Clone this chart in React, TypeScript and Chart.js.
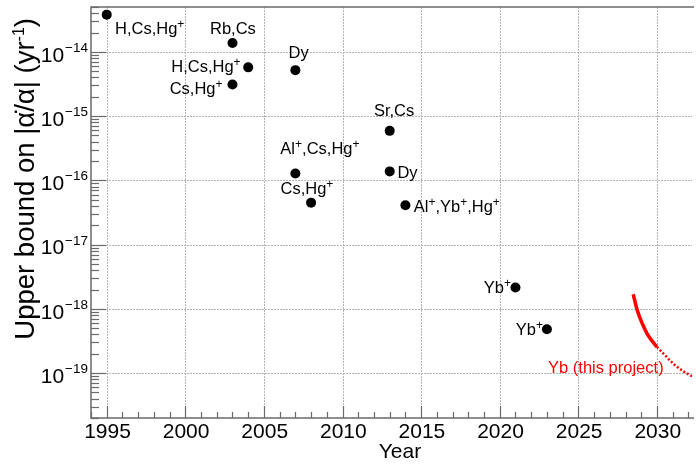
import React, { useEffect, useRef } from 'react';
import { Chart, registerables } from 'chart.js';

Chart.register(...registerables);

// ---- data ----
const pointYears = [1995, 2003, 2004, 2003, 2007, 2013, 2007, 2013, 2008, 2014, 2021, 2023];
const pointBounds = [3.8e-14, 1.38e-14, 5.75e-15, 3.1e-15, 5.2e-15, 5.9e-16, 1.28e-16, 1.38e-16, 4.5e-17, 4.1e-17, 2.15e-18, 4.8e-19];
const pointLabels = [
  'H,Cs,Hg^{+}', 'Rb,Cs', 'H,Cs,Hg^{+}', 'Cs,Hg^{+}', 'Dy', 'Sr,Cs',
  'Al^{+},Cs,Hg^{+}', 'Dy', 'Cs,Hg^{+}', 'Al^{+},Yb^{+},Hg^{+}', 'Yb^{+}', 'Yb^{+}',
];

const projectYearsSolid = [2028.49, 2028.76, 2029.08, 2029.39, 2029.81, 2030.0];
const projectBoundsSolid = [1.69e-18, 9.3e-19, 5.8e-19, 4.05e-19, 2.9e-19, 2.55e-19];
const projectYearsDotted = [2030.0, 2030.44, 2031.07, 2031.7, 2032.17, 2032.4];
const projectBoundsDotted = [2.55e-19, 1.98e-19, 1.38e-19, 1.06e-19, 9.1e-20, 8.6e-20];
const projectLabel = 'Yb (this project)';
const projectLabelYear = 2026.75;
const projectLabelBound = 1e-19;

const xTickYears = [1995, 2000, 2005, 2010, 2015, 2020, 2025, 2030];
const yTickExponents = [-19, -18, -17, -16, -15, -14];
const xTitle = 'Year';
const yTitle = 'Upper bound on |\u03B1\u0307/\u03B1| (yr^{-1})';

// ---- layout / style (not data) ----
const X_MIN = 1994;
const X_MAX = 2032.23;
const Y_MIN = 2e-20;
const Y_MAX = 5e-14;
const FONT = "'Liberation Sans', Arial, Helvetica, sans-serif";
// label placement relative to point pixel: [align, dx, dy(baseline)]
const labelPlacement: [CanvasTextAlign, number, number][] = [
  ['left', 8.3, 19.3],
  ['center', 0.4, -9],
  ['right', -7.6, 5],
  ['right', -10, 9.5],
  ['center', 3.3, -12.4],
  ['center', 4.4, -14.6],
  ['left', -15, -19],
  ['left', 7.7, 6.3],
  ['left', -30.6, -8.3],
  ['left', 8.3, 6.7],
  ['right', -4.5, 5.7],
  ['right', -4, 5.7],
];

type Seg = { t: string; sup: boolean };
function parseRich(s: string): Seg[] {
  const out: Seg[] = [];
  const re = /\^\{([^}]*)\}/g;
  let last = 0;
  let m: RegExpExecArray | null;
  while ((m = re.exec(s)) !== null) {
    if (m.index > last) out.push({ t: s.slice(last, m.index), sup: false });
    out.push({ t: m[1], sup: true });
    last = m.index + m[0].length;
  }
  if (last < s.length) out.push({ t: s.slice(last), sup: false });
  return out;
}

function drawRich(
  ctx: CanvasRenderingContext2D, text: string, x: number, y: number,
  align: CanvasTextAlign, size: number, supSize: number, supRaise: number, color: string,
) {
  const segs = parseRich(text);
  const mainF = `${size}px ${FONT}`;
  const supF = `${supSize}px ${FONT}`;
  let total = 0;
  const widths = segs.map((s) => {
    ctx.font = s.sup ? supF : mainF;
    const w = ctx.measureText(s.t).width;
    total += w;
    return w;
  });
  let cx = x;
  if (align === 'center') cx = x - total / 2;
  else if (align === 'right') cx = x - total;
  ctx.fillStyle = color;
  ctx.textAlign = 'left';
  ctx.textBaseline = 'alphabetic';
  segs.forEach((s, i) => {
    ctx.font = s.sup ? supF : mainF;
    ctx.fillText(s.t, cx, s.sup ? y - supRaise : y);
    cx += widths[i];
  });
}

const rootStyle = {
  id: 'rootStyle',
  beforeDatasetsDraw(chart: any) {
    const { ctx, chartArea: a, scales } = chart;
    const xs = scales.x;
    const ys = scales.y;
    ctx.save();
    // grid
    ctx.strokeStyle = '#b4b4b4';
    ctx.lineWidth = 1;
    ctx.setLineDash([2, 1]);
    xTickYears.forEach((yr) => {
      const px = Math.round(xs.getPixelForValue(yr)) + 0.5;
      ctx.beginPath();
      ctx.moveTo(px, a.top);
      ctx.lineTo(px, a.bottom);
      ctx.stroke();
    });
    yTickExponents.forEach((e) => {
      const py = Math.round(ys.getPixelForValue(Math.pow(10, e))) + 0.5;
      ctx.beginPath();
      ctx.moveTo(a.left, py);
      ctx.lineTo(a.right, py);
      ctx.stroke();
    });
    ctx.setLineDash([]);
    // ticks
    ctx.strokeStyle = '#6a6a6a';
    ctx.lineWidth = 1.2;
    for (let d = -21; d <= -13; d++) {
      for (let k = 1; k <= 9; k++) {
        const v = k * Math.pow(10, d);
        if (v < Y_MIN * 0.999 || v > Y_MAX * 1.001) continue;
        const py = Math.round(ys.getPixelForValue(v)) + 0.5;
        const len = k === 1 ? 15 : 8;
        ctx.beginPath();
        ctx.moveTo(a.left, py);
        ctx.lineTo(a.left + len, py);
        ctx.stroke();
      }
    }
    for (let yr = Math.ceil(X_MIN); yr <= X_MAX; yr++) {
      const px = Math.round(xs.getPixelForValue(yr)) + 0.5;
      const len = yr % 5 === 0 ? 12 : 6;
      ctx.beginPath();
      ctx.moveTo(px, a.bottom);
      ctx.lineTo(px, a.bottom - len);
      ctx.stroke();
    }
    // frame
    ctx.strokeStyle = '#6a6a6a';
    ctx.lineWidth = 1.5;
    ctx.beginPath();
    ctx.moveTo(a.right + 2, a.top);
    ctx.lineTo(a.left, a.top);
    ctx.lineTo(a.left, a.bottom);
    ctx.lineTo(a.right + 2, a.bottom);
    ctx.stroke();
    ctx.restore();
  },
  afterDatasetsDraw(chart: any) {
    const { ctx, chartArea: a, scales } = chart;
    const xs = scales.x;
    const ys = scales.y;
    ctx.save();
    // point labels
    pointLabels.forEach((lab, i) => {
      const px = xs.getPixelForValue(pointYears[i]);
      const py = ys.getPixelForValue(pointBounds[i]);
      const [al, dx, dy] = labelPlacement[i];
      drawRich(ctx, lab, px + dx, py + dy, al, 16.5, 12, 6, '#000');
    });
    // project label
    drawRich(ctx, projectLabel, xs.getPixelForValue(projectLabelYear), ys.getPixelForValue(projectLabelBound),
      'center', 16.5, 12, 6, '#ff0000');
    // x tick labels
    xTickYears.forEach((yr) => {
      const px = xs.getPixelForValue(yr);
      ctx.font = `21px ${FONT}`;
      ctx.fillStyle = '#000';
      ctx.textAlign = 'center';
      ctx.textBaseline = 'alphabetic';
      ctx.fillText(String(yr), px + 0.8, a.bottom + 20);
    });
    // y tick labels
    yTickExponents.forEach((e) => {
      const py = ys.getPixelForValue(Math.pow(10, e));
      const sup = '\u2212' + String(-e);
      ctx.font = `13.5px ${FONT}`;
      const sw = ctx.measureText(sup).width;
      ctx.fillStyle = '#000';
      ctx.textAlign = 'right';
      ctx.textBaseline = 'alphabetic';
      ctx.fillText(sup, a.left - 3, py);
      ctx.font = `21px ${FONT}`;
      ctx.fillText('10', a.left - 3 - sw - 1, py + 9.8);
    });
    // x title
    ctx.font = `21px ${FONT}`;
    ctx.textAlign = 'center';
    ctx.fillStyle = '#000';
    ctx.fillText(xTitle, 400, 458);
    // y title
    ctx.translate(34, 18);
    ctx.rotate(-Math.PI / 2);
    drawRich(ctx, yTitle, 0, 0, 'right', 27.5, 16, 10, '#000');
    ctx.restore();
  },
};

export default function App() {
  const ref = useRef<HTMLCanvasElement | null>(null);
  useEffect(() => {
    document.body.style.margin = '0';
    const canvas = ref.current!;
    const chart = new Chart(canvas, {
      type: 'scatter',
      data: {
        datasets: [
          {
            label: 'points',
            data: pointYears.map((yr, i) => ({ x: yr, y: pointBounds[i] })),
            pointRadius: 5,
            pointBackgroundColor: '#000',
            pointBorderWidth: 0,
            showLine: false,
          },
          {
            label: 'project',
            data: projectYearsSolid.map((yr, i) => ({ x: yr, y: projectBoundsSolid[i] })),
            showLine: true,
            borderColor: '#ff0000',
            borderWidth: 3.5,
            pointRadius: 0,
            cubicInterpolationMode: 'monotone',
          },
          {
            label: 'project extrapolated',
            data: projectYearsDotted.map((yr, i) => ({ x: yr, y: projectBoundsDotted[i] })),
            showLine: true,
            borderColor: '#ff0000',
            borderWidth: 2.5,
            borderDash: [2, 2],
            pointRadius: 0,
            cubicInterpolationMode: 'monotone',
          },
        ] as any,
      },
      options: {
        animation: false,
        responsive: false,
        maintainAspectRatio: false,
        events: [],
        layout: { padding: { left: 91, top: 7, right: 0, bottom: 46 } },
        plugins: {
          legend: { display: false },
          tooltip: { enabled: false },
          title: { display: false },
        },
        scales: {
          x: { type: 'linear', display: false, min: X_MIN, max: X_MAX, bounds: 'data' },
          y: { type: 'logarithmic', display: false, min: Y_MIN, max: Y_MAX, bounds: 'data' },
        },
      } as any,
      plugins: [rootStyle],
    });
    return () => chart.destroy();
  }, []);
  return (
    <div style={{ position: 'absolute', left: 0, top: 0, width: 697, height: 464, background: '#fff' }}>
      <canvas ref={ref} width={697} height={464} style={{ display: 'block', width: 697, height: 464 }} />
    </div>
  );
}
